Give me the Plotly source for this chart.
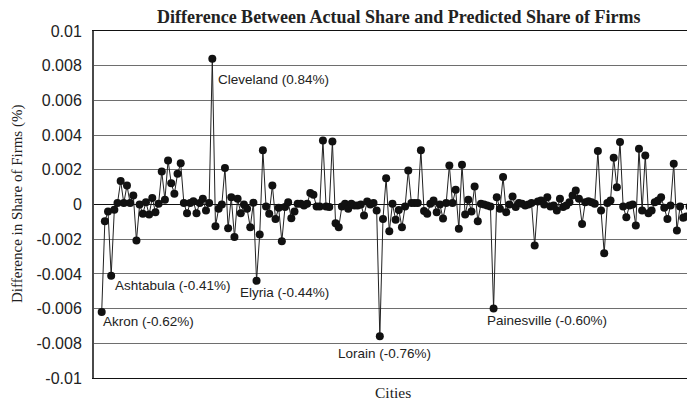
import plotly.graph_objects as go

# Difference between actual and predicted share of firms, in thousandths (x 0.001)
diff_thousandths = [
    -6.2, -0.96, -0.4, -4.1, -0.3, 0.08, 1.35, 0.08, 1.1, 0.08,
    0.52, -2.08, 0.0, -0.54, 0.13, -0.58, 0.38, -0.44, 0.04, 1.9,
    0.27, 2.54, 1.23, 0.62, 1.77, 2.38, 0.08, -0.5, 0.08, 0.19,
    -0.5, 0.08, 0.33, -0.35, 0.08, 8.4, -1.25, -0.25, 0.0, 2.1,
    -1.37, 0.42, -1.88, 0.33, -0.5, 0.0, -0.25, -1.31, 0.1, -4.4,
    -1.73, 3.12, -0.12, -0.54, 1.1, -0.83, -0.19, -2.12, -0.15, 0.13,
    -0.79, -0.4, 0.04, 0.04, -0.06, 0.04, 0.67, 0.56, -0.12, -0.12,
    3.69, -0.12, -0.15, 3.63, -1.08, -1.31, -0.12, 0.04, -0.25, 0.04,
    -0.06, -0.06, 0.0, -0.63, 0.17, 0.0, 0.08, -0.35, -7.6, -0.83,
    1.52, -1.54, 0.04, -0.88, -0.31, -1.31, -0.12, 1.96, 0.08, 0.08,
    0.08, 3.12, -0.38, -0.54, 0.04, 0.23, -0.44, 0.0, -0.8, 0.08,
    2.25, 0.08, 0.85, -1.4, 2.29, -0.58, 0.27, -0.4, 1.04, -0.96,
    0.04, 0.0, -0.06, -0.12, -6.0, 0.42, -0.25, 1.58, -0.44, 0.0,
    0.46, -0.15, 0.08, 0.04, -0.06, 0.0, 0.08, -2.37, 0.17, 0.23,
    0.0, 0.42, -0.12, -0.06, -0.35, 0.33, -0.15, -0.06, 0.13, 0.52,
    0.81, 0.33, -1.12, 0.13, 0.19, 0.13, 0.04, 3.08, -0.35, -2.81,
    0.08, 0.23, 2.69, 1.0, 3.6, -0.12, -0.73, -0.06, 0.0, -1.21,
    3.21, -0.35, 2.83, -0.5, -0.35, 0.13, 0.23, 0.42, -0.19, -0.83,
    -0.06, 2.35, -1.5, -0.12, -0.77, -0.69, -0.12, -0.19,
]
diff = [v / 1000.0 for v in diff_thousandths]
cities = list(range(1, len(diff) + 1))

# Labelled cities: index in the series, and their label text
label_city_index = [0, 3, 35, 49, 88, 124]
label_texts = ["Akron (-0.62%)", "Ashtabula (-0.41%)", "Cleveland (0.84%)",
               "Elyria (-0.44%)", "Lorain (-0.76%)", "Painesville (-0.60%)"]

y_tick_vals = [0.01, 0.008, 0.006, 0.004, 0.002, 0.0, -0.002, -0.004, -0.006, -0.008, -0.01]
y_tick_text = ["0.01", "0.008", "0.006", "0.004", "0.002", "0", "-0.002", "-0.004", "-0.006", "-0.008", "-0.01"]

title_text = "Difference Between Actual Share and Predicted Share of Firms"
y_title = "Difference in Share of Firms (%)"
x_title = "Cities"

# The page body has an 8px default margin, so the figure is placed at (8, 8)
OFF = 8
WIN_W, WIN_H = 695, 404
W, H = WIN_W - OFF, WIN_H - OFF
# plot area in window pixels
PX_L, PX_R, PX_T, PX_B = 94, 695, 31, 378
L, R, T, B = PX_L - OFF, WIN_W - PX_R, PX_T - OFF, H - (PX_B - OFF)
pw = W - L - R
ph = H - T - B


def paper_x(xw):
    return (xw - OFF - L) / pw


def paper_y(yw):
    return ((H - (yw - OFF)) - B) / ph


fig = go.Figure()
fig.add_trace(go.Scatter(
    x=cities, y=diff, mode="lines+markers",
    line=dict(color="#222222", width=1),
    marker=dict(color="#111111", size=8),
    hoverinfo="skip",
))

# label offsets (pixels) relative to their point
label_shift = [(-1, -9), (2, -10), (4, -21), (-19, -12), (-44, -17), (-9, -12)]
for idx, txt, (dx, dy) in zip(label_city_index, label_texts, label_shift):
    fig.add_annotation(
        x=cities[idx], y=diff[idx], xref="x", yref="y", text=txt,
        showarrow=False, xanchor="left", yanchor="middle",
        xshift=dx, yshift=dy,
        font=dict(family="Liberation Sans, Arial", size=13.5, color="#222222"),
    )

serif = "Liberation Serif, Times New Roman"
fig.add_annotation(
    x=paper_x(17), y=paper_y(204), xref="paper", yref="paper", text=y_title,
    showarrow=False, textangle=-90, xanchor="center", yanchor="middle",
    font=dict(family=serif, size=15, color="#222222"),
)
fig.add_annotation(
    x=paper_x(393), y=paper_y(392), xref="paper", yref="paper", text=x_title,
    showarrow=False, xanchor="center", yanchor="middle",
    font=dict(family=serif, size=15.5, color="#222222"),
)
fig.add_annotation(
    x=paper_x(399), y=paper_y(17), xref="paper", yref="paper",
    text="<b>" + title_text + "</b>", showarrow=False,
    xanchor="center", yanchor="middle",
    font=dict(family=serif, size=18, color="#222222"),
)

n = len(cities)
first_px, last_px = 101.7, 692.7
step = (last_px - first_px) / (n - 1)
x_lo = cities[0] - (first_px - PX_L) / step
x_hi = cities[-1] + (PX_R - last_px) / step

fig.update_layout(
    width=W, height=H,
    margin=dict(l=L, r=R, t=T, b=B, pad=0),
    paper_bgcolor="white", plot_bgcolor="white",
    showlegend=False,
    xaxis=dict(
        range=[x_lo, x_hi], showticklabels=False, showgrid=False, zeroline=False,
        showline=True, mirror=True, linecolor="#111111", linewidth=1, ticks="",
    ),
    yaxis=dict(
        range=[-0.01, 0.01], tickvals=y_tick_vals, ticktext=y_tick_text,
        showgrid=True, gridcolor="#6e6e6e", gridwidth=1,
        zeroline=True, zerolinecolor="#111111", zerolinewidth=1,
        showline=True, linecolor="#4a4a4a", linewidth=2, ticks="",
        ticklabelstandoff=7,
        tickfont=dict(family="Liberation Sans, Arial", size=16, color="#222222"),
    ),
)

fig.write_html("out.html")
